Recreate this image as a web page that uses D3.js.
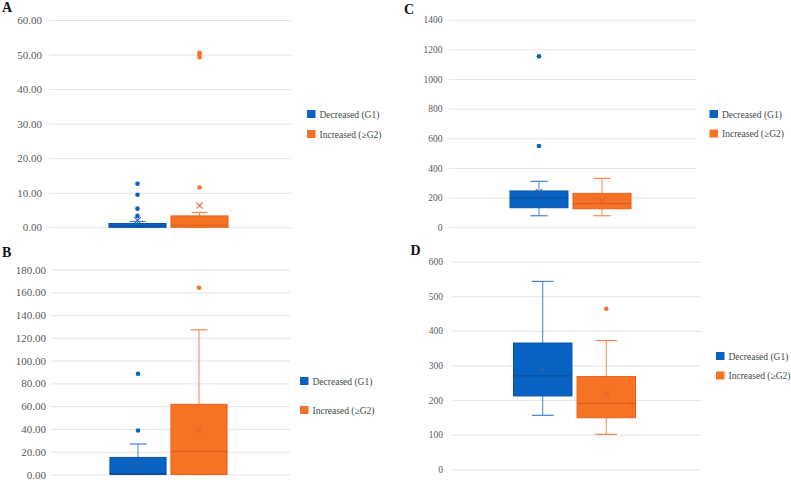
<!DOCTYPE html>
<html>
<head>
<meta charset="utf-8">
<script src="https://cdn.jsdelivr.net/npm/d3@7"></script>
<style>
  body { margin: 0; background: #fff; }
  svg { display: block; }
</style>
</head>
<body>
<script>
// groups shared by all four panels
var groups = ['Decreased (G1)', 'Increased (\u2265G2)'];

// y axis ticks for each panel
var ticksA = [0, 10, 20, 30, 40, 50, 60];
var ticksB = [0, 20, 40, 60, 80, 100, 120, 140, 160, 180];
var ticksC = [0, 200, 400, 600, 800, 1000, 1200, 1400];
var ticksD = [0, 100, 200, 300, 400, 500, 600];

// box stats per group: [whisker low, q1, median, q3, whisker high]
var boxA = [[0, 0, 0.4, 1.1, 1.7], [0, 0, 0.6, 3.3, 4.3]];
var meanA = [2.0, 6.3];
var outA = [[3.3, 5.4, 9.4, 12.6], [11.5, 49.2, 50.0, 50.5]];

var boxB = [[0, 0, 1, 15, 26.8], [0, 0, 20.4, 61.6, 127]];
var meanB = [10, 39];
var outB = [[38.7, 88.5], [164]];

var boxC = [[78, 132, 197, 245, 310], [78, 125, 160, 229, 330]];
var meanC = [236, 180];
var outC = [[548, 1153], []];

var boxD = [[156, 212, 270, 365, 543], [101, 149, 191, 268, 372]];
var meanD = [288, 218];
var outD = [[], [464]];

var serif = '"Liberation Serif", "Times New Roman", Times, "DejaVu Serif", serif';
var fill = ['#0862c2', '#f87226'];
var edge = ['#0a53a6', '#e5621a'];
var whiskerCol = ['#3d84d4', '#f3874a'];
var medianCol = ['#0b4c94', '#d45a18'];
var meanCol = ['#2a60a8', '#e0662a'];

var svg = d3.select('body').append('svg')
    .attr('width', 791).attr('height', 480);

// layout of each panel (pixels)
var panels = [
  {letter: 'A', ticks: ticksA, box: boxA, mean: meanA, out: outA, fmt: '.2f', fs: 11,
   x0: 49, x1: 292, y0: 20, y1: 227.3, pad: 7, lx: 2, ly: 12, legX: 307, legY: 110, legGap: 20, cap: 0.28},
  {letter: 'B', ticks: ticksB, box: boxB, mean: meanB, out: outB, fmt: '.2f', fs: 11,
   x0: 51, x1: 290, y0: 269.5, y1: 474.5, pad: 5, lx: 2, ly: 257, legX: 300, legY: 377, legGap: 29, cap: 0.3},
  {letter: 'C', ticks: ticksC, box: boxC, mean: meanC, out: outC, fmt: 'd', fs: 9.5,
   x0: 449, x1: 696, y0: 19.7, y1: 227.3, pad: 6.5, lx: 404, ly: 13.5, legX: 709.5, legY: 110, legGap: 19.5, cap: 0.3},
  {letter: 'D', ticks: ticksD, box: boxD, mean: meanD, out: outD, fmt: 'd', fs: 9.5,
   x0: 452, x1: 701, y0: 261.7, y1: 469.3, pad: 9, lx: 410.5, ly: 255, legX: 716, legY: 352, legGap: 19.5, cap: 0.37}
];

panels.forEach(function(p) {
  var g = svg.append('g');
  var w = p.x1 - p.x0;

  var y = d3.scaleLinear()
      .domain([0, d3.max(p.ticks)])
      .range([p.y1, p.y0]);

  // boxes sit in the middle half of the plot
  var mid = (p.x0 + p.x1) / 2 - 2;
  var x = d3.scaleBand()
      .domain(groups)
      .range([mid - w * 0.245, mid + w * 0.245])
      .paddingInner(0.08);

  // grid
  g.append('g')
      .attr('transform', 'translate(' + p.x0 + ',0)')
      .call(d3.axisLeft(y).tickValues(p.ticks).tickSize(-w).tickFormat(''))
      .call(function(s) {
        s.select('.domain').remove();
        s.selectAll('line').attr('stroke', '#e8e2e2');
      });

  // tick labels
  g.append('g')
      .attr('transform', 'translate(' + (p.x0 - p.pad) + ',0)')
      .call(d3.axisLeft(y).tickValues(p.ticks).tickSize(0).tickPadding(0).tickFormat(d3.format(p.fmt)))
      .call(function(s) {
        s.select('.domain').remove();
        s.attr('font-family', serif).attr('font-size', p.fs);
        s.selectAll('text').attr('fill', '#595959');
      });

  g.append('text')
      .attr('x', p.lx).attr('y', p.ly)
      .attr('font-family', serif).attr('font-weight', 'bold').attr('font-size', 14)
      .attr('fill', '#111')
      .text(p.letter);

  groups.forEach(function(name, i) {
    var b = p.box[i];
    var bx = x(name), bw = x.bandwidth(), cx = bx + bw / 2;
    var cw = bw * p.cap;

    // whiskers
    g.append('line')
        .attr('x1', cx).attr('x2', cx)
        .attr('y1', y(b[0])).attr('y2', y(b[1]))
        .attr('stroke', whiskerCol[i]);
    g.append('line')
        .attr('x1', cx).attr('x2', cx)
        .attr('y1', y(b[3])).attr('y2', y(b[4]))
        .attr('stroke', whiskerCol[i]);
    [b[0], b[4]].forEach(function(v) {
      g.append('line')
          .attr('x1', cx - cw / 2).attr('x2', cx + cw / 2)
          .attr('y1', y(v)).attr('y2', y(v))
          .attr('stroke', whiskerCol[i]).attr('stroke-width', 1.2);
    });

    // box
    g.append('rect')
        .attr('x', bx).attr('y', y(b[3]))
        .attr('width', bw).attr('height', Math.max(y(b[1]) - y(b[3]), 0))
        .attr('fill', fill[i]).attr('stroke', edge[i]);

    // median
    g.append('line')
        .attr('x1', bx).attr('x2', bx + bw)
        .attr('y1', y(b[2])).attr('y2', y(b[2]))
        .attr('stroke', medianCol[i]);

    // mean marker
    var my = y(p.mean[i]), s = 3.2;
    g.append('path')
        .attr('d', 'M' + (cx - s) + ',' + (my - s) + 'L' + (cx + s) + ',' + (my + s) +
                   'M' + (cx - s) + ',' + (my + s) + 'L' + (cx + s) + ',' + (my - s))
        .attr('stroke', meanCol[i]).attr('stroke-width', 1.1).attr('fill', 'none');

    // outliers
    g.selectAll(null)
        .data(p.out[i])
        .enter().append('circle')
        .attr('cx', cx).attr('cy', function(d) { return y(d); })
        .attr('r', 2.3)
        .attr('fill', fill[i]);
  });

  // legend
  var leg = g.append('g')
      .attr('font-family', serif).attr('font-size', 9.5);
  groups.forEach(function(name, i) {
    var ly = p.legY + i * p.legGap;
    leg.append('rect')
        .attr('x', p.legX).attr('y', ly)
        .attr('width', 8.5).attr('height', 8)
        .attr('fill', fill[i]);
    leg.append('text')
        .attr('x', p.legX + 12.5).attr('y', ly + 7.5)
        .attr('fill', '#3f4a48')
        .text(name);
  });
});
</script>
</body>
</html>
